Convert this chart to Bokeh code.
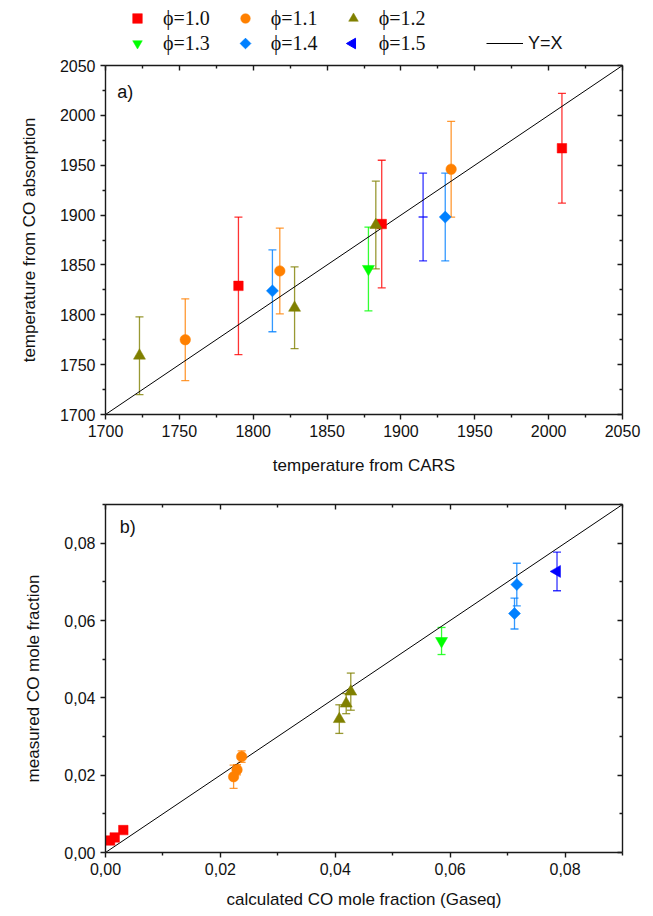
import math
from bokeh.plotting import figure
from bokeh.models import (Range1d, FixedTicker, LinearAxis, Whisker, TeeHead, ColumnDataSource,
                          Legend, LegendItem, Label, CustomJSTickFormatter)
from bokeh.layouts import column
from bokeh.embed import file_html
from bokeh.resources import INLINE

# ---------------- data ----------------
phi_labels = ["ϕ=1.0", "ϕ=1.1", "ϕ=1.2", "ϕ=1.3", "ϕ=1.4", "ϕ=1.5"]
colors = ["#FF0000", "#FF8000", "#808000", "#00FF00", "#0080FF", "#0000FF"]
markers = ["square", "circle", "triangle", "inverted_triangle", "square", "triangle"]
angles = [0, 0, 0, 0, math.pi / 4, math.pi / 2]
sizes = [9.5, 10.5, 12, 12, 8.5, 12]

# panel a: temperature from CARS (x), from CO absorption (y), error bar half-width
a_cars_10 = [1790, 1887, 2009]
a_co_10 = [1829, 1891, 1967]
a_err_10 = [69, 64, 55]
a_cars_11 = [1754, 1818, 1934]
a_co_11 = [1775, 1844, 1946]
a_err_11 = [41, 43, 48]
a_cars_12 = [1723, 1828, 1883]
a_co_12 = [1759, 1807, 1890]
a_err_12 = [39, 41, 44]
a_cars_13 = [1878]
a_co_13 = [1846]
a_err_13 = [42]
a_cars_14 = [1813, 1930]
a_co_14 = [1824, 1898]
a_err_14 = [41, 44]
a_cars_15 = [1915]
a_co_15 = [1898]
a_err_15 = [44]

# panel b: calculated CO mole fraction (x), measured (y), error bar half-width
b_calc_10 = [0.0008, 0.0016, 0.0031]
b_meas_10 = [0.0031, 0.0039, 0.0058]
b_err_10 = [0.0, 0.0, 0.0]
b_calc_11 = [0.0223, 0.0229, 0.0237]
b_meas_11 = [0.0196, 0.0214, 0.0248]
b_err_11 = [0.0030, 0.0013, 0.0015]
b_calc_12 = [0.0407, 0.0419, 0.0427]
b_meas_12 = [0.0345, 0.0385, 0.0416]
b_err_12 = [0.0037, 0.0026, 0.0048]
b_calc_13 = [0.0585]
b_meas_13 = [0.0547]
b_err_13 = [0.0035]
b_calc_14 = [0.0712, 0.0716]
b_meas_14 = [0.0618, 0.0693]
b_err_14 = [0.0040, 0.0055]
b_calc_15 = [0.0786]
b_meas_15 = [0.0727]
b_err_15 = [0.0050]

diag_a = [1700, 2050]
diag_b = [0.0, 0.09]

ticks_a = [1700, 1750, 1800, 1850, 1900, 1950, 2000, 2050]
minor_a = [1725, 1775, 1825, 1875, 1925, 1975, 2025]
ticks_b = [0.0, 0.02, 0.04, 0.06, 0.08]
minor_b = [0.01, 0.03, 0.05, 0.07, 0.09]

a_series = [(a_cars_10, a_co_10, a_err_10), (a_cars_11, a_co_11, a_err_11),
            (a_cars_12, a_co_12, a_err_12), (a_cars_13, a_co_13, a_err_13),
            (a_cars_14, a_co_14, a_err_14), (a_cars_15, a_co_15, a_err_15)]
b_series = [(b_calc_10, b_meas_10, b_err_10), (b_calc_11, b_meas_11, b_err_11),
            (b_calc_12, b_meas_12, b_err_12), (b_calc_13, b_meas_13, b_err_13),
            (b_calc_14, b_meas_14, b_err_14), (b_calc_15, b_meas_15, b_err_15)]

AX_COLOR = "#1a1a1a"
TICK_FONT = "Liberation Sans"
FRAME_LEFT = 105
FRAME_W = 653 - FRAME_LEFT - 31


def style_axis(ax, ticker, show_labels, inside, fmt=None, title=None, standoff=10):
    ax.ticker = ticker
    if fmt is not None:
        ax.formatter = fmt
    ax.axis_line_color = AX_COLOR
    ax.axis_line_width = 1.4
    ax.major_tick_line_color = AX_COLOR
    ax.minor_tick_line_color = AX_COLOR
    ax.major_tick_line_width = 1.4
    ax.minor_tick_line_width = 1.4
    if inside:
        ax.major_tick_in, ax.major_tick_out = 5, 0
        ax.minor_tick_in, ax.minor_tick_out = 3, 0
    else:
        ax.major_tick_in, ax.major_tick_out = 0, 5
        ax.minor_tick_in, ax.minor_tick_out = 0, 3
    if show_labels:
        ax.major_label_text_font = TICK_FONT
        ax.major_label_text_font_size = "16px"
        ax.major_label_text_color = "#111111"
    else:
        ax.major_label_text_font_size = "1px"
        ax.major_label_text_color = None
        ax.major_label_standoff = 0
    if title:
        ax.axis_label = title
        ax.axis_label_text_font = TICK_FONT
        ax.axis_label_text_font_size = "17px"
        ax.axis_label_text_font_style = "normal"
        ax.axis_label_text_color = "#111111"
        ax.axis_label_standoff = standoff


def make_fig(height, rng, border_top, border_bottom, ticks, minors, fmt, xtitle, ytitle, xstand, ystand):
    p = figure(width=653, height=height, x_range=Range1d(*rng), y_range=Range1d(*rng),
               output_backend="svg", toolbar_location=None,
               min_border_left=FRAME_LEFT, min_border_right=31,
               min_border_top=border_top, min_border_bottom=border_bottom)
    p.xgrid.visible = False
    p.ygrid.visible = False
    p.outline_line_color = None
    style_axis(p.xaxis[0], FixedTicker(ticks=ticks, minor_ticks=minors), True, False, fmt, xtitle, xstand)
    style_axis(p.yaxis[0], FixedTicker(ticks=ticks, minor_ticks=minors), True, False, fmt, ytitle, ystand)
    top = LinearAxis()
    right = LinearAxis()
    style_axis(top, FixedTicker(ticks=ticks, minor_ticks=minors), False, True)
    style_axis(right, FixedTicker(ticks=ticks, minor_ticks=minors), False, True)
    p.add_layout(top, "above")
    p.add_layout(right, "right")
    return p


def add_points(p, series, i, visible=True, alpha=1.0):
    xs, ys, es = series[i]
    src = ColumnDataSource(dict(x=xs, y=ys))
    r = p.scatter("x", "y", source=src, marker=markers[i], angle=angles[i],
                  size=sizes[i], fill_color=colors[i], line_color=colors[i], line_width=0.5,
                  fill_alpha=alpha, line_alpha=alpha)
    r.visible = visible
    return r


def draw_series(p, series, dash_last=False):
    for i, (xs, ys, es) in enumerate(series):
        src = ColumnDataSource(dict(x=xs, y=ys,
                                    upper=[y + e for y, e in zip(ys, es)],
                                    lower=[y - e for y, e in zip(ys, es)]))
        if any(e > 0 for e in es):
            c = colors[i]
            w = Whisker(base="x", upper="upper", lower="lower", source=src,
                        line_color=c, line_alpha=0.8, line_width=1.3,
                        upper_head=TeeHead(size=8, line_color=c, line_alpha=0.8, line_width=1.3),
                        lower_head=TeeHead(size=8, line_color=c, line_alpha=0.8, line_width=1.3))
            p.add_layout(w)
        if dash_last and i == len(series) - 1:
            p.scatter("x", "y", source=src, marker="dash", size=9, line_color=colors[i],
                      line_width=2, line_alpha=0.6)
        else:
            add_points(p, series, i)


# ---------------- legend strip ----------------
# (its frame is aligned with the panels' frames by the column layout)
LEG_H = 56
GLYPH_H = 24
ROW_CENTERS = [18, 43]          # px from top of the page
KEY_CENTERS = [137, 245, 352]   # px from left of the page
pl = figure(width=653, height=LEG_H, x_range=Range1d(0, 1), y_range=Range1d(0, 1),
            output_backend="svg", toolbar_location=None, min_border=0,
            x_axis_location=None, y_axis_location=None)
pl.xgrid.visible = False
pl.ygrid.visible = False
pl.outline_line_color = None
# legend proxies: the rotated keys (diamond, left triangle) are drawn separately, since
# Bokeh legends do not rotate marker keys
leg_rends = [add_points(pl, a_series, i, visible=False, alpha=(0.0 if angles[i] else 1.0))
             for i in range(6)]
key_x = [(KEY_CENTERS[j] - FRAME_LEFT) / FRAME_W for j in (1, 2)]
key_y = [(LEG_H - ROW_CENTERS[1]) / LEG_H] * 2
pl.scatter(key_x[:1], key_y[:1], marker="square", angle=math.pi / 4, size=7.5,
           fill_color=colors[4], line_color=colors[4])
pl.scatter(key_x[1:], key_y[1:], marker="triangle", angle=math.pi / 2, size=10.5,
           fill_color=colors[5], line_color=colors[5])
diag_proxy = pl.line(diag_a, diag_a, line_color="black", line_width=1)
diag_proxy.visible = False

leg_kw = dict(orientation="horizontal", border_line_color=None, background_fill_alpha=0,
              padding=0, margin=0, spacing=16, glyph_width=38, glyph_height=GLYPH_H,
              label_height=GLYPH_H, label_standoff=7, label_text_font="Liberation Serif",
              label_text_font_size="20px", label_text_color="#111111",
              inactive_fill_alpha=0)
leg1 = Legend(items=[LegendItem(label=phi_labels[i], renderers=[leg_rends[i]]) for i in range(3)],
              location=(KEY_CENTERS[0] - 19 - FRAME_LEFT, LEG_H - ROW_CENTERS[0] - GLYPH_H // 2),
              **leg_kw)
leg2 = Legend(items=[LegendItem(label=phi_labels[i], renderers=[leg_rends[i]]) for i in range(3, 6)],
              location=(KEY_CENTERS[0] - 19 - FRAME_LEFT, LEG_H - ROW_CENTERS[1] - GLYPH_H // 2),
              **leg_kw)
leg3 = Legend(items=[LegendItem(label="Y=X", renderers=[diag_proxy])],
              location=(486 - FRAME_LEFT, LEG_H - ROW_CENTERS[1] - GLYPH_H // 2),
              orientation="horizontal", border_line_color=None, background_fill_alpha=0,
              padding=0, margin=0, glyph_width=37, glyph_height=GLYPH_H, label_height=GLYPH_H,
              label_standoff=5, label_text_font="Liberation Sans", label_text_font_size="18px",
              label_text_color="#111111", inactive_fill_alpha=0)
pl.add_layout(leg1)
pl.add_layout(leg2)
pl.add_layout(leg3)

# ---------------- panel a ----------------
pa = make_fig(490 - LEG_H, (1700, 2050), 65 - LEG_H, 76, ticks_a, minor_a, None,
              "temperature from CARS", "temperature from CO absorption", 16, 18)
pa.line(diag_a, diag_a, line_color="black", line_width=1)
draw_series(pa, a_series, dash_last=True)
pa.add_layout(Label(x=1708, y=2023, text="a)", text_font=TICK_FONT, text_font_size="18px",
                    text_baseline="middle", text_color="#111111"))

# ---------------- panel b ----------------
fmt_b = CustomJSTickFormatter(code="return tick.toFixed(2).replace('.', ',');")
pb = make_fig(426, (0.0, 0.09), 14, 64, ticks_b, minor_b, fmt_b,
              "calculated CO mole fraction (Gaseq)", "measured CO mole fraction", 12, 18)
pb.line(diag_b, diag_b, line_color="black", line_width=1)
draw_series(pb, b_series)
pb.add_layout(Label(x=0.0025, y=0.0843, text="b)", text_font=TICK_FONT, text_font_size="18px",
                    text_baseline="middle", text_color="#111111"))

layout = column(pl, pa, pb, spacing=0)
open("out.html", "w").write(file_html(layout, INLINE))
